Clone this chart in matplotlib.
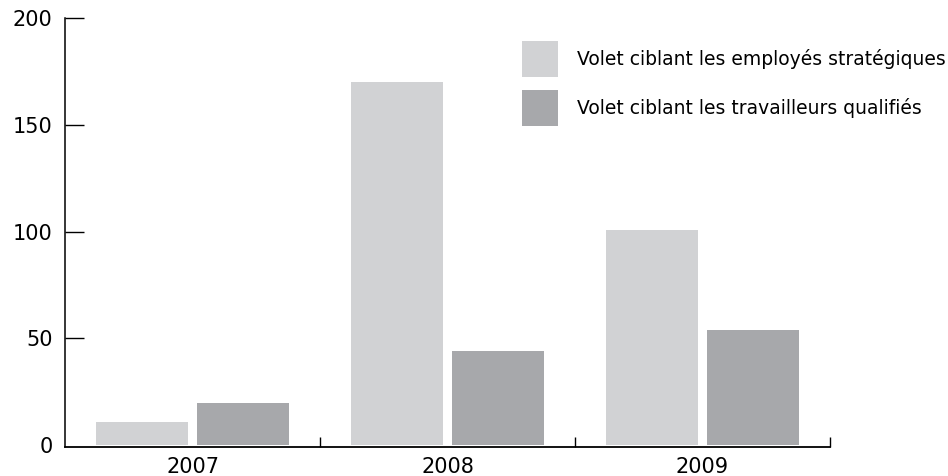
import matplotlib
matplotlib.use("Agg")
import matplotlib.pyplot as plt
import numpy as np

years = ["2007", "2008", "2009"]
strategiques = [11, 170, 101]
qualifies = [20, 44, 54]
series_labels = ["Volet ciblant les employés stratégiques",
                 "Volet ciblant les travailleurs qualifiés"]
yticks = [0, 50, 100, 150, 200]

light = "#d1d2d4"
dark = "#a7a8ab"

plt.rcParams['font.family'] = ['DejaVu Sans']

fig = plt.figure(figsize=(9.48, 4.76), dpi=100)
ax = fig.add_axes([65/948, 1-447/476, (830-65)/948, (447-18)/476])

x = np.arange(len(years))
w = 0.36
off = 0.198
ax.bar(x - off, strategiques, width=w, color=light, label=series_labels[0], zorder=2)
ax.bar(x + off, qualifies, width=w, color=dark, label=series_labels[1], zorder=2)

ax.set_xlim(-0.5, 2.5)
ax.set_ylim(-0.8, 200)
ax.spines['top'].set_visible(False)
ax.spines['right'].set_visible(False)
ax.spines['left'].set_bounds(-0.8, 200)
ax.spines['left'].set_linewidth(1.1)
ax.spines['bottom'].set_linewidth(1.3)

ax.set_yticks(yticks)
ax.set_yticklabels([str(v) for v in yticks])
ax.tick_params(axis='y', direction='in', length=14, width=1.0, pad=9, labelsize=15, color='black')
ax.yaxis.get_major_ticks()[0].tick1line.set_visible(False)
ax.set_xticks(x)
ax.set_xticklabels(years)
ax.tick_params(axis='x', which='major', length=0, pad=7, labelsize=15)
ax.set_xticks([0.5, 1.5, 2.5], minor=True)
ax.tick_params(axis='x', which='minor', direction='in', length=7, width=1.0, color='black')

fs = 13.5
leg = ax.legend(loc='upper left', bbox_to_anchor=(522/948, 1-41/476), bbox_transform=fig.transFigure,
                frameon=False, fontsize=fs, handlelength=1.92, handleheight=2.576,
                handletextpad=1.0, labelspacing=0.69, borderpad=0, borderaxespad=0)

fig.savefig("out.png", dpi=100)
